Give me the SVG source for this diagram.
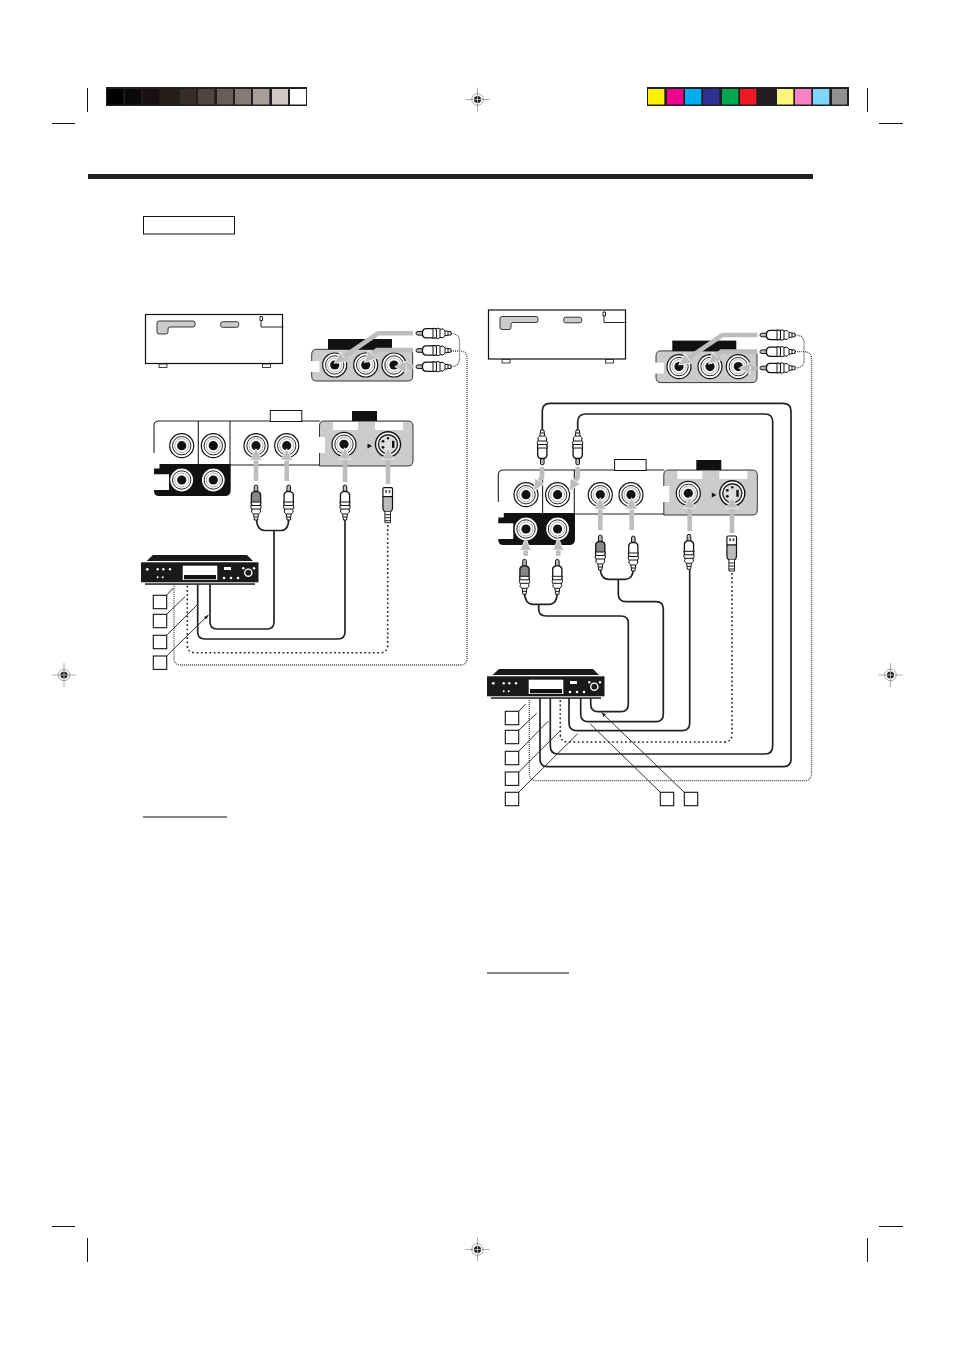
<svg xmlns="http://www.w3.org/2000/svg" xmlns:xlink="http://www.w3.org/1999/xlink" width="954" height="1351" viewBox="0 0 954 1351">
<style>
.k{fill:none;stroke:#231f20;stroke-width:1.1}
.cable{fill:none;stroke:#222;stroke-width:1.7}
.dot{fill:none;stroke:#222;stroke-width:1.6;stroke-dasharray:1.7 2.6}
.fine{fill:none;stroke:#444;stroke-width:1.3;stroke-dasharray:1 1}
.arrow{fill:none;stroke:#bdbdbd;stroke-width:4.6;marker-end:url(#ah)}
.lead{fill:none;stroke:#333;stroke-width:1;marker-end:url(#la)}
.lab{fill:#fff;stroke:#111;stroke-width:1.1}
.g{fill:#cbcbcb;stroke:#222;stroke-width:.9}
.w{fill:#fff}
.b{fill:#111}
.reg{fill:none;stroke:#555;stroke-width:.5}
</style>
<defs>
<marker id="ah" viewBox="-1 -1 12 12" refX="8" refY="5" markerWidth="3" markerHeight="3" orient="auto"><path d="M0 0L10 5L0 10Z" fill="#bdbdbd" stroke="#fff" stroke-width=".6"/></marker>
<marker id="la" viewBox="0 0 10 10" refX="9" refY="5" markerWidth="5" markerHeight="5" orient="auto"><path d="M0 1.5L10 5L0 8.5Z" fill="#222"/></marker>
<g id="jack"><circle r="12" fill="#fff" stroke="#111" stroke-width="1.2"/><circle r="9.2" fill="#fff" stroke="#222" stroke-width="1"/><circle r="7" fill="#fff" stroke="#666" stroke-width=".5"/><circle r="4.6" fill="#111"/></g>
<g id="sjack"><circle r="12.5" fill="#fff" stroke="#111" stroke-width="1.4"/><circle r="9.6" fill="#ddd" stroke="#222" stroke-width="1.4"/><rect x="4" y="-3.5" width="2.4" height="7" fill="#111"/><circle cx="-5" cy="-3" r="1.4" fill="#111"/><circle cx="-5" cy="3" r="1.4" fill="#111"/><circle cx="0" cy="-6" r="1.2" fill="#111"/></g>
<g id="plug"><path d="M-1.8 8V2Q-1.8 0 0 0Q1.8 0 1.8 2V8Z" fill="#bbb" stroke="#111" stroke-width="1"/><path d="M-4.6 21V10Q-4.6 7.5 -1.8 6.5H1.8Q4.6 7.5 4.6 10V21Z" stroke="#111" stroke-width="1.3"/><path d="M-5.2 17H5.2L4.2 19.5L5.2 22L4 25L4.6 27L2.4 29L1.6 35H-1.6L-2.4 29L-4.6 27L-4 25L-5.2 22L-4.2 19.5Z" fill="#fff" stroke="#111" stroke-width="1"/><path d="M-4 20.5H4M-4 24H4M-2.4 29H2.4M-1.8 32H1.8" stroke="#111" stroke-width="1"/></g>
<g id="splug"><rect x="-4.8" y="0" width="9.6" height="9" rx="1.2" fill="#fff" stroke="#111" stroke-width="1.2"/><rect x="-2.4" y="2.5" width="1.6" height="2.5" fill="#333"/><rect x="1" y="2.5" width="1.6" height="2.5" fill="#333"/><path d="M-4.8 9H4.8V20Q4.8 23 2.6 24H-2.6Q-4.8 23 -4.8 20Z" fill="#bbb" stroke="#111" stroke-width="1.2"/><path d="M-2.8 24V35H2.8V24M-2.8 27H2.8M-2.8 30H2.8M-2.8 33H2.8" fill="#fff" stroke="#111" stroke-width=".9"/></g>
<g id="tv"><rect x="145.5" y="314.5" width="137" height="49" fill="#fff" stroke="#111" stroke-width="1.2"/><rect x="159" y="364" width="8" height="3.5" fill="#fff" stroke="#111" stroke-width=".8"/><rect x="262.5" y="364" width="8" height="3.5" fill="#fff" stroke="#111" stroke-width=".8"/><path class="g" d="M159 321H193Q195 321 195 323V325Q195 327 193 327H170Q168 327 168 329V332Q168 334 166 334H159Q157 334 157 332V323Q157 321 159 321Z"/><rect class="g" x="220.7" y="321.7" width="18" height="5.6" rx="2"/><path d="M260 316.5h2.5v4h-2.5zM261 320V327H283.5" fill="none" stroke="#222" stroke-width="1"/></g>
<g id="inputs"><path class="g" d="M316.7 349.3H407.7Q412.7 349.3 412.7 354.3V376Q412.7 381 407.7 381H316.7Q311.7 381 311.7 376V354.3Q311.7 349.3 316.7 349.3Z"/><rect x="310.5" y="361" width="9" height="11" fill="#fff"/><rect x="328" y="339" width="64" height="10.5" fill="#111"/><use xlink:href="#jack" href="#jack" x="334.7" y="365"/><use xlink:href="#jack" href="#jack" x="365.7" y="365"/><use xlink:href="#jack" href="#jack" x="394" y="365"/></g>
<g id="panel"><path d="M154 453V426Q154 421 159 421H320" class="k"/><path d="M230 465H320M198.3 421V464M230 421V465" class="k"/><path d="M159.5 464H230.7V490Q230.7 496 225 496H159Q154 496 154 491V490H169V474.3H154V468.5H159.5Z" fill="#111"/><path class="g" d="M319.5 426Q319.5 421 324 421H408Q413 421 413 426V461Q413 466 408 466H319.5Z"/><rect x="318.5" y="437" width="6.5" height="16" fill="#fff"/><rect x="333" y="422" width="25" height="8" fill="#fff"/><rect x="375" y="422" width="28" height="8" fill="#fff"/><rect x="352" y="411" width="25" height="10" fill="#111"/><rect x="270.3" y="410.5" width="31.5" height="11" fill="#fff" stroke="#111" stroke-width="1"/><path d="M367.5 443.5L372 446L367.5 448.5Z" fill="#111"/><use xlink:href="#jack" href="#jack" x="181.7" y="445.7"/><use xlink:href="#jack" href="#jack" x="213.3" y="445.7"/><use xlink:href="#jack" href="#jack" x="256" y="445.7"/><use xlink:href="#jack" href="#jack" x="286.7" y="445.7"/><use xlink:href="#jack" href="#jack" x="344" y="444.3"/><use xlink:href="#sjack" href="#sjack" x="388" y="444.3"/><use xlink:href="#jack" href="#jack" x="181.7" y="480"/><use xlink:href="#jack" href="#jack" x="213.3" y="480"/></g>
<g id="player"><path d="M146.5 561L153 555H247L253 561Z" fill="#1a1a1a"/><rect x="141" y="562.3" width="117.5" height="20" fill="#1a1a1a"/><rect x="145" y="583.3" width="110" height="1.5" fill="#1a1a1a"/><rect class="w" x="182.7" y="565.7" width="34.6" height="14.3"/><rect class="b" x="184" y="575" width="32" height="4.3"/><g fill="#fff"><circle cx="147.3" cy="569.3" r="1.4"/><circle cx="157.7" cy="569.3" r="1.2"/><circle cx="163.3" cy="569.3" r="1.2"/><circle cx="170" cy="569.3" r="1.2"/><circle cx="157.7" cy="577.3" r="1"/><circle cx="162.7" cy="577.3" r="1"/><circle cx="224" cy="578" r="1.3"/><circle cx="231" cy="578" r="1.3"/><circle cx="238" cy="578" r="1.3"/><circle cx="243.3" cy="568.3" r="1.2"/><circle cx="254" cy="568.3" r="1.2"/><rect x="224" y="567" width="7" height="3"/></g><circle cx="248.3" cy="572.7" r="3.6" fill="none" stroke="#fff" stroke-width="1.4"/></g>
<g id="reg"><path class="reg" d="M-12 0H12M0 -12V12"/><circle r="5.8" class="reg"/><circle r="3.6" fill="#222"/><path d="M-4 0H4M0 -4V4" stroke="#fff" stroke-width=".6"/></g>
</defs>
<rect width="954" height="1351" fill="#fff"/>
<g id="print-marks">
<rect x="106" y="87" width="201" height="19" fill="#231f20"/>
<g><rect x="107" y="89" width="16.3" height="15.5" fill="#000"/><rect x="125" y="89" width="16.3" height="15.5" fill="#0b0a09"/><rect x="143" y="89" width="16.3" height="15.5" fill="#151211"/><rect x="162" y="89" width="16" height="15.5" fill="#231f1b"/><rect x="180" y="89" width="16" height="15.5" fill="#372d2b"/><rect x="198" y="89" width="16.3" height="15.5" fill="#4f4543"/><rect x="217" y="89" width="16" height="15.5" fill="#6a5e5c"/><rect x="235" y="89" width="16" height="15.5" fill="#857a75"/><rect x="253" y="89" width="16.3" height="15.5" fill="#a89e9a"/><rect x="272" y="89" width="16" height="15.5" fill="#cfc7c5"/><rect x="290" y="89" width="16" height="15.5" fill="#fff"/></g>
<rect x="647" y="87" width="202" height="19" fill="#231f20"/>
<g><rect x="648" y="89" width="16.3" height="15.5" fill="#fff200"/><rect x="667" y="89" width="16.3" height="15.5" fill="#ec008c"/><rect x="685" y="89" width="16.3" height="15.5" fill="#00aeef"/><rect x="703" y="89" width="16.3" height="15.5" fill="#2e3192"/><rect x="722" y="89" width="16.3" height="15.5" fill="#00a651"/><rect x="740" y="89" width="16.3" height="15.5" fill="#ed1c24"/><rect x="758" y="89" width="16.3" height="15.5" fill="#231f20"/><rect x="777" y="89" width="16.3" height="15.5" fill="#fff57c"/><rect x="795" y="89" width="16.3" height="15.5" fill="#f782c6"/><rect x="813" y="89" width="16.3" height="15.5" fill="#7fd6fa"/><rect x="832" y="89" width="15" height="15.5" fill="#929090"/></g>
<path d="M87.5 88V112M52 123.5H75M867.5 88V112M879 123.5H903M52 1226.5H75M879 1226.5H903M87.5 1238V1262M867.5 1238V1262" fill="none" stroke="#111" stroke-width="1"/>
<use xlink:href="#reg" href="#reg" x="477.5" y="99.5"/><use xlink:href="#reg" href="#reg" x="64" y="675"/><use xlink:href="#reg" href="#reg" x="890.5" y="675"/><use xlink:href="#reg" href="#reg" x="477.5" y="1249.5"/>
<rect x="88" y="174" width="725" height="5" fill="#231f20"/>
<rect x="143.5" y="216.5" width="91" height="17.5" fill="#fff" stroke="#111" stroke-width="1"/>
<path d="M143 817H227M487 973H569" stroke="#111" stroke-width="1.2"/>
</g>
<g id="tv-left"><use xlink:href="#tv" href="#tv"/></g>
<g id="inputs-left"><use xlink:href="#inputs" href="#inputs"/></g>
<g id="panel-left"><use xlink:href="#panel" href="#panel"/></g>
<g id="player-left"><use xlink:href="#player" href="#player"/></g>
<g id="tv-right"><use xlink:href="#tv" href="#tv" transform="translate(343 -4.5)"/></g>
<g id="inputs-right"><use xlink:href="#inputs" href="#inputs" transform="translate(344.3 1.6)"/></g>
<g id="panel-right"><use xlink:href="#panel" href="#panel" transform="translate(344.3 49)"/></g>
<g id="player-right"><use xlink:href="#player" href="#player" transform="translate(346 114)"/></g>
<g id="labels-left">
<rect class="lab" x="153.3" y="595.3" width="13.4" height="13.4"/><rect class="lab" x="153.3" y="614.3" width="13.4" height="13.4"/><rect class="lab" x="153.3" y="635.3" width="13.4" height="13.4"/><rect class="lab" x="153.3" y="656" width="13.4" height="13.4"/>
</g>
<g id="labels-right">
<rect class="lab" x="505.3" y="711.3" width="13.4" height="13.4"/><rect class="lab" x="505.3" y="730.3" width="13.4" height="13.4"/><rect class="lab" x="505.3" y="751.3" width="13.4" height="13.4"/><rect class="lab" x="505.3" y="772" width="13.4" height="13.4"/><rect class="lab" x="505.3" y="792.3" width="13.4" height="13.4"/><rect class="lab" x="660.3" y="792.3" width="13.4" height="13.4"/><rect class="lab" x="684.3" y="792.3" width="13.4" height="13.4"/>
</g>
<g id="connectors">
<path class="cable" d="M256.5 519Q257 530.5 265 530.5H281Q288.5 530.5 288.7 519M274 530.5V622Q274 629 267 629H217Q210 629 210 622V584.5"/>
<path class="cable" d="M345 520V632Q345 639 338 639H205Q197.7 639 197.7 632V584.5"/>
<path class="dot" d="M387.7 525V645Q387.7 652.7 380 652.7H195Q187.3 652.7 187.3 645V585"/>
<path class="fine" d="M451 333.5Q459 333.5 459.5 341V359Q459 366.7 451 366.7M451 351H460Q467 351 467 358V658Q467 665 460 665H181Q174 665 174 658V585"/>
<path class="fine" d="M795 335Q803.5 335 804 342V361Q803.5 368 795 368M795 351.7H804Q811.5 351.7 811.5 359V773Q811.5 780.7 804 780.7H537Q529.3 780.7 529.3 773V700"/>
<path class="cable" d="M542.3 430V411Q542.3 403.3 550 403.3H783Q791 403.3 791 411V759Q791 766.7 783 766.7H548Q540 766.7 540 759V698"/>
<path class="cable" d="M577.7 430V422Q577.7 414 586 414H765Q772.7 414 772.7 422V746Q772.7 754 765 754H558Q550.3 754 550.3 746V698"/>
<path class="dot" d="M732 573V734Q732 742 724 742H568Q560.3 742 560.3 734V698"/>
<path class="cable" d="M689.7 570V723Q689.7 730.7 682 730.7H577Q569 730.7 569 723V698"/>
<path class="cable" d="M600.3 568Q600.5 579.3 609 579.3H625Q633 579.3 633.3 569M618.3 579.3V594Q618.3 601.7 626 601.7H656Q663.3 601.7 663.3 609V714Q663.3 721.7 656 721.7H588Q580.7 721.7 580.7 714V698"/>
<path class="cable" d="M524.5 592.5Q525 604.3 533 604.3H549Q557 604.3 557.3 592.5M538.7 604.3V609Q538.7 616 546 616H621Q628.3 616 628.3 623V704Q628.3 711.7 621 711.7H598Q590.7 711.7 590.7 704V698"/>
<path class="lead" d="M166.7 595.3L173.3 588M166.7 614.3L185 596.7M166.7 635.3L197.7 604.3M166.7 656L208.3 615"/>
<path class="lead" d="M518.7 711.3L525.7 704M518.7 730.3L536.7 713.3M518.7 751.3L548.3 721M518.7 772L560 731M518.7 792.3L577.7 733.7M660.3 792.3L590.3 724M684.3 792.3L601.7 712.7"/>
<g id="arrows">
<path class="arrow" d="M413 333.3H378L336 362"/><path class="arrow" d="M413 350H377L366 361"/><path class="arrow" d="M413 366.7H397"/>
<path class="arrow" d="M256 481V451"/><path class="arrow" d="M286.7 481V451"/><path class="arrow" d="M345 482V450"/><path class="arrow" d="M388 484V450"/>
<path class="arrow" d="M757.3 335H722.3L680.5 363.6"/><path class="arrow" d="M757.3 351.6H721.3L710 362.6"/><path class="arrow" d="M757.3 368.3H741"/>
<path class="arrow" d="M542 467V477L535 489"/><path class="arrow" d="M577.7 467V477L570.7 489"/>
<path class="arrow" d="M600.3 530V500"/><path class="arrow" d="M631.7 530V500"/><path class="arrow" d="M689.7 531V499"/><path class="arrow" d="M732 533V499"/>
<path class="arrow" d="M525.7 556V541"/><path class="arrow" d="M558.3 556V541"/>
</g>
<g id="plugs">
<use xlink:href="#plug" href="#plug" x="256" y="485" fill="#888"/><use xlink:href="#plug" href="#plug" x="288.7" y="485" fill="#fff"/><use xlink:href="#plug" href="#plug" x="345" y="485" fill="#fff"/><use xlink:href="#splug" href="#splug" x="387.7" y="487.7"/>
<use xlink:href="#plug" href="#plug" transform="translate(416 333.3) rotate(-90)" fill="#fff"/><use xlink:href="#plug" href="#plug" transform="translate(416 350.5) rotate(-90)" fill="#fff"/><use xlink:href="#plug" href="#plug" transform="translate(416 366.7) rotate(-90)" fill="#fff"/>
<use xlink:href="#plug" href="#plug" transform="translate(760 335) rotate(-90)" fill="#fff"/><use xlink:href="#plug" href="#plug" transform="translate(760 351.7) rotate(-90)" fill="#fff"/><use xlink:href="#plug" href="#plug" transform="translate(760 368) rotate(-90)" fill="#fff"/>
<use xlink:href="#plug" href="#plug" transform="translate(542.3 465) rotate(180)" fill="#fff"/><use xlink:href="#plug" href="#plug" transform="translate(577.7 465) rotate(180)" fill="#fff"/>
<use xlink:href="#plug" href="#plug" x="600.3" y="535" fill="#888"/><use xlink:href="#plug" href="#plug" x="633.3" y="536" fill="#fff"/><use xlink:href="#plug" href="#plug" x="689" y="534.3" fill="#fff"/><use xlink:href="#splug" href="#splug" x="731.7" y="536"/>
<use xlink:href="#plug" href="#plug" x="524.5" y="559.3" fill="#888"/><use xlink:href="#plug" href="#plug" x="557.3" y="559.3" fill="#fff"/>
</g>
</g>
</svg>
